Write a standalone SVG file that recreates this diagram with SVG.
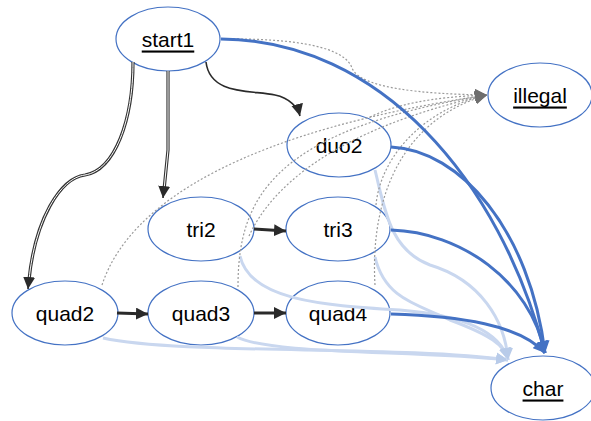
<svg xmlns="http://www.w3.org/2000/svg" width="591" height="421" viewBox="0 0 591 421">
<style>
.node ellipse{fill:#fff;stroke:#4472C4;stroke-width:1.2}
.node text{font-family:"Liberation Sans",Arial,sans-serif;font-size:21px;fill:#000;text-anchor:middle;dominant-baseline:central}
.u{text-decoration:underline}
.e{fill:none}
.blk{stroke:#2a2a2a;stroke-width:1.6}
.thk{stroke:#2a2a2a;stroke-width:3}
.dbo{stroke:#333;stroke-width:3.2}
.dbi{stroke:#fff;stroke-width:1}
.dk{stroke:#4472C4;stroke-width:3}
.lt{stroke:#c9d7ef;stroke-width:3}
.dot{stroke:#9a9a9a;stroke-width:1.2;stroke-dasharray:2 2}
</style>
<defs>
<marker id="mb" markerUnits="userSpaceOnUse" markerWidth="14" markerHeight="12" refX="12" refY="6" orient="auto"><path d="M0,0 L12,6 L0,12 z" fill="#2a2a2a"/></marker>
<marker id="md" markerUnits="userSpaceOnUse" markerWidth="14" markerHeight="12" refX="12" refY="6" orient="auto"><path d="M0,0 L12,6 L0,12 z" fill="#4472C4"/></marker>
<marker id="ml" markerUnits="userSpaceOnUse" markerWidth="14" markerHeight="12" refX="12" refY="6" orient="auto"><path d="M0,0 L12,6 L0,12 z" fill="#b8cbe9"/></marker>
<marker id="mg" markerUnits="userSpaceOnUse" markerWidth="14" markerHeight="12" refX="12" refY="6" orient="auto"><path d="M0,0 L12,6 L0,12 z" fill="#6e6e6e"/></marker>
</defs>
<g id="start1" class="node"><ellipse cx="168" cy="39" rx="52" ry="32"/><text x="168" y="39" class="u">start1</text></g>
<g id="illegal" class="node"><ellipse cx="540" cy="95" rx="52" ry="32"/><text x="540" y="95" class="u">illegal</text></g>
<g id="duo2" class="node"><ellipse cx="339" cy="145" rx="52" ry="32"/><text x="339" y="145">duo2</text></g>
<g id="tri2" class="node"><ellipse cx="201" cy="229" rx="53" ry="32"/><text x="201" y="229">tri2</text></g>
<g id="tri3" class="node"><ellipse cx="338" cy="229" rx="52" ry="32"/><text x="338" y="229">tri3</text></g>
<g id="quad2" class="node"><ellipse cx="65" cy="313" rx="53" ry="32"/><text x="65" y="313">quad2</text></g>
<g id="quad3" class="node"><ellipse cx="201" cy="313" rx="53" ry="32"/><text x="201" y="313">quad3</text></g>
<g id="quad4" class="node"><ellipse cx="338" cy="313" rx="52" ry="32"/><text x="338" y="313">quad4</text></g>
<g id="char" class="node"><ellipse cx="543" cy="388" rx="52" ry="32"/><text x="543" y="388" class="u">char</text></g>
<g id="connectors" class="e">
<path class="e lt" d="M103,338 C180,355 400,345 508,360" marker-end="url(#ml)"/>
<path class="e lt" d="M237,337 C270,355 420,350 508,360" marker-end="url(#ml)"/>
<path class="e lt" d="M240,256 C250,300 320,305 400,310 C460,315 500,330 508,360" marker-end="url(#ml)"/>
<path class="e lt" d="M375,257 C385,300 420,305 450,320 C490,335 505,345 508,360" marker-end="url(#ml)"/>
<path class="e lt" d="M375,170 C385,210 390,250 430,265 C480,280 505,320 508,360" marker-end="url(#ml)"/>
<path class="e dot" d="M221,39 C300,38 345,48 352,68 C360,88 420,94 487,95" marker-end="url(#mg)"/>
<path class="e dot" d="M370,117 C395,105 430,97 487,95" marker-end="url(#mg)"/>
<path class="e dot" d="M249,236 C270,190 330,130 487,95" marker-end="url(#mg)"/>
<path class="e dot" d="M376,205 C380,160 420,110 487,95" marker-end="url(#mg)"/>
<path class="e dot" d="M102,285 C130,200 250,130 487,95" marker-end="url(#mg)"/>
<path class="e dot" d="M238,287 C238,200 270,130 487,95" marker-end="url(#mg)"/>
<path class="e dot" d="M375,285 C370,200 400,120 487,95" marker-end="url(#mg)"/>
<path class="e dk" d="M221,39 C380,40 500,180 545,353" marker-end="url(#md)"/>
<path class="e dk" d="M391,147 C460,150 530,230 545,353" marker-end="url(#md)"/>
<path class="e dk" d="M391,230 C460,232 530,280 545,353" marker-end="url(#md)"/>
<path class="e dk" d="M391,314 C460,316 520,325 545,353" marker-end="url(#md)"/>
<path class="e blk" d="M206,62 C210,95 250,90 275,95 C290,98 298,108 300,116" marker-end="url(#mb)"/>
<path class="e dbo" d="M168,71 L168,150 L164,190"/>
<path class="e dbi" d="M168,71 L168,150 L164,190"/>
<path class="e blk" d="M164,188 L163,198" marker-end="url(#mb)"/>
<path class="e dbo" d="M133,62 C133,120 115,170 85,175 C60,178 35,220 29,280"/>
<path class="e dbi" d="M133,62 C133,120 115,170 85,175 C60,178 35,220 29,280"/>
<path class="e blk" d="M29,278 L28,289" marker-end="url(#mb)"/>
<path class="e thk" d="M254,229 L286,231" marker-end="url(#mb)"/>
<path class="e thk" d="M117,313 L148,314" marker-end="url(#mb)"/>
<path class="e thk" d="M254,313 L286,313" marker-end="url(#mb)"/>
</g>
</svg>
